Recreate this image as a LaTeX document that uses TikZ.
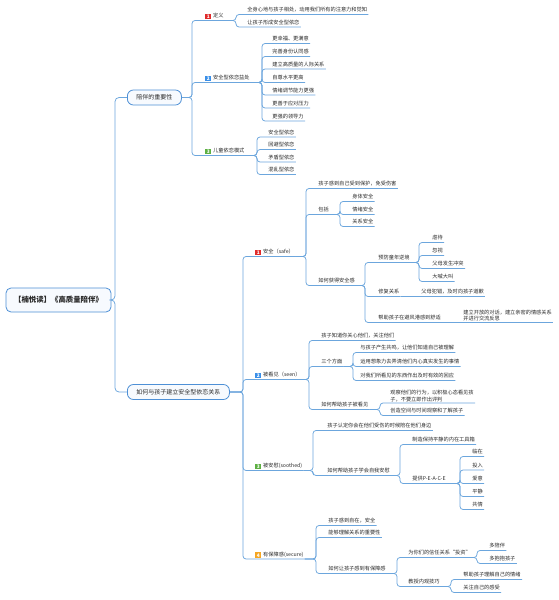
\documentclass[tikz,border=0pt]{standalone}
\usepackage{fontspec}
\setmainfont{Noto Sans CJK SC}
\definecolor{linec}{HTML}{6CA6DD}
\definecolor{boxc}{HTML}{4E90D6}
\definecolor{boxfill}{HTML}{F7FAFE}
\definecolor{bred}{HTML}{E02B2B}
\definecolor{bblue}{HTML}{3A8FE8}
\definecolor{bgreen}{HTML}{5DB043}
\definecolor{borange}{HTML}{F5A623}
\definecolor{txt}{HTML}{2A2A2A}
\newcommand{\bdg}[2]{\raisebox{-0.8pt}{\setlength{\fboxsep}{0pt}\colorbox{#1}{\makebox[5.8pt][c]{\rule[-0.8pt]{0pt}{5.8pt}\textcolor{white}{\fontsize{4.8}{5}\selectfont\bfseries #2}}}}\hspace{2pt}}
\tikzset{
  lfbase/.style={anchor=south west, inner xsep=1.2pt, inner ysep=0.9pt, font=\fontsize{5.2}{6.6}\selectfont, text=txt},
  lf/.style={lfbase, text height=4.4pt, text depth=1.6pt},
  lftwo/.style={lfbase, align=left},
  conn/.style={draw=linec, line width=0.75pt, rounded corners=3pt},
  l1box/.style={draw=boxc, line width=0.8pt, fill=boxfill, rounded corners=6pt, minimum height=15pt, inner xsep=9pt, font=\fontsize{6}{7}\selectfont, text=txt},
  rootbox/.style={draw=boxc, line width=0.8pt, fill=boxfill, rounded corners=5pt, minimum height=24pt, minimum width=105pt, font=\fontsize{7.4}{9}\selectfont\bfseries, text=txt},
}
\newcommand{\cn}[3]{\draw[conn] (#1.south east) -- (#1.south east -| #3) |- (#2.south west) -- (#2.south east);}
\newcommand{\cnb}[3]{\draw[conn] (#1.east) -- (#1.east -| #3) |- (#2.south west) -- (#2.south east);}
\newcommand{\cnd}[2]{\draw[conn] (#1.south east) -- (#2.south west) -- (#2.south east);}
\begin{document}
\begin{tikzpicture}[x=1pt,y=-1pt]
\useasboundingbox (0,0) rectangle (558,600);
\fill[white] (0,0) rectangle (558,600);
% trunk coordinates
\coordinate (tr) at (115,0);
\coordinate (ta) at (192,0);
\coordinate (ta1) at (236,0);
\coordinate (ta2) at (262,0);
\coordinate (ta3) at (257,0);
\coordinate (tb) at (243,0);
\coordinate (tb1) at (306,0);
\coordinate (tb12) at (340,0);
\coordinate (tb13) at (365,0);
\coordinate (tb131) at (419,0);
\coordinate (tb2) at (309,0);
\coordinate (tb22) at (353,0);
\coordinate (tb23) at (380,0);
\coordinate (tb3) at (313,0);
\coordinate (tb32) at (400,0);
\coordinate (tb322) at (460,0);
\coordinate (tb4) at (316,0);
\coordinate (tb43) at (397,0);
\coordinate (tb431) at (477,0);
\coordinate (tb432) at (451,0);

% root and level 1
\node[rootbox] (root) at (58.5,300) {【楠悦读】《高质量陪伴》};
\node[l1box, anchor=west] (a) at (127,97.5) {陪伴的重要性};
\node[l1box, anchor=west] (b) at (127,392) {如何与孩子建立安全型依恋关系};

% branch a
\node[lf] (a1) at (204,20.5) {\bdg{bred}{1}定义};
\node[lf] (a2) at (204,82.5) {\bdg{bblue}{2}安全型依恋益处};
\node[lf] (a3) at (204,155.5) {\bdg{bgreen}{3}儿童依恋模式};
\node[lf] (a11) at (246,14.5) {全身心地与孩子相处，动用我们所有的注意力和觉知};
\node[lf] (a12) at (246,27) {让孩子形成安全型依恋};
\node[lf] (a21) at (271,43.5) {更幸福、更满意};
\node[lf] (a22) at (271,56.5) {完善身份认同感};
\node[lf] (a23) at (271,69) {建立高质量的人际关系};
\node[lf] (a24) at (271,82.5) {自尊水平更高};
\node[lf] (a25) at (271,95) {情绪调节能力更强};
\node[lf] (a26) at (271,108) {更善于应对压力};
\node[lf] (a27) at (271,121) {更强的领导力};
\node[lf] (a31) at (267,137) {安全型依恋};
\node[lf] (a32) at (267,149.5) {回避型依恋};
\node[lf] (a33) at (267,162) {矛盾型依恋};
\node[lf] (a34) at (267,174.5) {混乱型依恋};

% branch b level 2
\node[lf] (b1) at (254,256.5) {\bdg{bred}{1}安全（safe）};
\node[lf] (b2) at (254,379.5) {\bdg{bblue}{2}被看见（seen）};
\node[lf] (b3) at (254,470.5) {\bdg{bgreen}{3}被安慰(soothed)};
\node[lf] (b4) at (254,559) {\bdg{borange}{4}有保障感(secure)};

% b1
\node[lf] (b11) at (317,188.5) {孩子感到自己受到保护，免受伤害};
\node[lf] (b12) at (317,214.5) {包括};
\node[lf] (b121) at (351,201.5) {身体安全};
\node[lf] (b122) at (351,214.5) {情绪安全};
\node[lf] (b123) at (351,226.5) {关系安全};
\node[lf] (b13) at (317,285.5) {如何获得安全感};
\node[lf] (b131) at (377,262.5) {预防童年逆境};
\node[lf] (b1311) at (431,242.5) {虐待};
\node[lf] (b1312) at (431,255.5) {忽视};
\node[lf] (b1313) at (431,268.5) {父母发生冲突};
\node[lf] (b1314) at (431,281.5) {大喊大叫};
\node[lf] (b132) at (377,296.5) {修复关系};
\node[lf] (b1321) at (420,296.5) {父母犯错，及时向孩子道歉};
\node[lf] (b133) at (377,322.5) {帮助孩子在避风港感到舒适};
\node[lftwo] (b1331) at (462,322.5) {建立开放的对话，建立亲密的情感关系\\并进行交流反思};

% b2
\node[lf] (b21) at (320,340.5) {孩子知道你关心他们，关注他们};
\node[lf] (b22) at (320,366.5) {三个方面};
\node[lf] (b221) at (359,352.5) {与孩子产生共鸣，让他们知道自己被理解};
\node[lf] (b222) at (359,366.5) {运用想象力去弄清他们内心真实发生的事情};
\node[lf] (b223) at (359,380.5) {对我们所看见的东西作出及时有效的回应};
\node[lf] (b23) at (320,409.5) {如何帮助孩子被看见};
\node[lftwo] (b231) at (389,403) {观察他们的行为，以积极心态看见孩\\子，不要立即作出评判};
\node[lf] (b232) at (389,415.5) {创造空间与时间观察和了解孩子};

% b3
\node[lf] (b31) at (326,430.5) {孩子认定你会在他们受伤的时候陪在他们身边};
\node[lf] (b32) at (326,475.5) {如何帮助孩子学会自我安慰};
\node[lf] (b321) at (411,444.5) {制造保持平静的内在工具箱};
\node[lf] (b322) at (411,483.5) {提供P-E-A-C-E};
\node[lf] (b3221) at (471,456.5) {临在};
\node[lf] (b3222) at (471,470) {投入};
\node[lf] (b3223) at (471,483.5) {爱意};
\node[lf] (b3224) at (471,496.5) {平静};
\node[lf] (b3225) at (471,509.5) {共情};

% b4
\node[lf] (b41) at (327,525.5) {孩子感到自在，安全};
\node[lf] (b42) at (327,537.5) {能够理解关系的重要性};
\node[lf] (b43) at (327,573.5) {如何让孩子感到有保障感};
\node[lf] (b431) at (407,557.5) {为你们的信任关系“投资”};
\node[lf] (b4311) at (488,550.5) {多陪伴};
\node[lf] (b4312) at (488,563.5) {多抱抱孩子};
\node[lf] (b432) at (407,586.5) {教授内观技巧};
\node[lf] (b4321) at (462,579.5) {帮助孩子理解自己的情绪};
\node[lf] (b4322) at (462,592.5) {关注自己的感受};

% connectors
\draw[conn, rounded corners=4pt] (root.east) -- (root.east -| tr) |- (a.west);
\draw[conn, rounded corners=4pt] (root.east) -- (root.east -| tr) |- (b.west);
\cnb{a}{a1}{ta} \cnb{a}{a2}{ta} \cnb{a}{a3}{ta}
\cn{a1}{a11}{ta1} \cn{a1}{a12}{ta1}
\cn{a2}{a21}{ta2} \cn{a2}{a22}{ta2} \cn{a2}{a23}{ta2} \cn{a2}{a24}{ta2}
\cn{a2}{a25}{ta2} \cn{a2}{a26}{ta2} \cn{a2}{a27}{ta2}
\cn{a3}{a31}{ta3} \cn{a3}{a32}{ta3} \cn{a3}{a33}{ta3} \cn{a3}{a34}{ta3}

\cnb{b}{b1}{tb} \cnb{b}{b2}{tb} \cnb{b}{b3}{tb} \cnb{b}{b4}{tb}
\cn{b1}{b11}{tb1} \cn{b1}{b12}{tb1} \cn{b1}{b13}{tb1}
\cn{b12}{b121}{tb12} \cn{b12}{b122}{tb12} \cn{b12}{b123}{tb12}
\cn{b13}{b131}{tb13} \cn{b13}{b132}{tb13} \cn{b13}{b133}{tb13}
\cn{b131}{b1311}{tb131} \cn{b131}{b1312}{tb131} \cn{b131}{b1313}{tb131} \cn{b131}{b1314}{tb131}
\cnd{b132}{b1321}
\cnd{b133}{b1331}

\cn{b2}{b21}{tb2} \cn{b2}{b22}{tb2} \cn{b2}{b23}{tb2}
\cn{b22}{b221}{tb22} \cn{b22}{b222}{tb22} \cn{b22}{b223}{tb22}
\cn{b23}{b231}{tb23} \cn{b23}{b232}{tb23}

\cn{b3}{b31}{tb3} \cn{b3}{b32}{tb3}
\cn{b32}{b321}{tb32} \cn{b32}{b322}{tb32}
\cn{b322}{b3221}{tb322} \cn{b322}{b3222}{tb322} \cn{b322}{b3223}{tb322} \cn{b322}{b3224}{tb322} \cn{b322}{b3225}{tb322}

\cn{b4}{b41}{tb4} \cn{b4}{b42}{tb4} \cn{b4}{b43}{tb4}
\cn{b43}{b431}{tb43} \cn{b43}{b432}{tb43}
\cn{b431}{b4311}{tb431} \cn{b431}{b4312}{tb431}
\cn{b432}{b4321}{tb432} \cn{b432}{b4322}{tb432}
\end{tikzpicture}
\end{document}
